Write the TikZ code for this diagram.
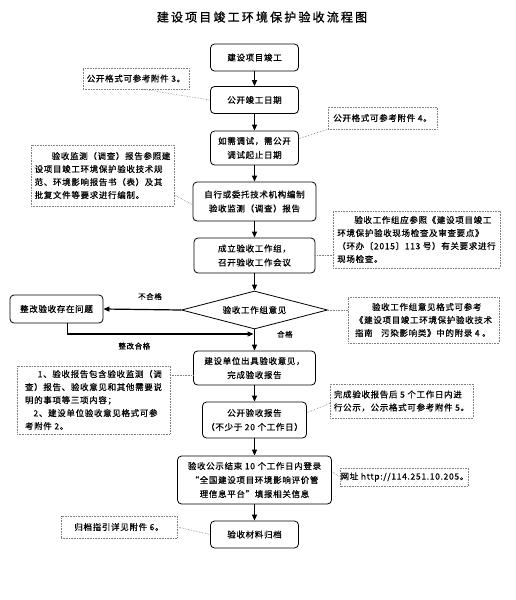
\documentclass[tikz,border=0pt]{standalone}
\usepackage{fontspec}
\newfontfamily\cjk[LetterSpace=8,FakeBold=0.6]{Noto Sans CJK SC}
\newfontfamily\cjktitle[LetterSpace=18,FakeBold=1.2]{Noto Sans CJK SC}
\usetikzlibrary{shapes.geometric,arrows.meta,calc}

\tikzset{
  box/.style={draw, rounded corners=4pt, line width=0.8pt, align=center, inner sep=0pt,
    font=\cjk\fontsize{8.5}{14}\selectfont},
  decision/.style={draw, diamond, aspect=3.84, line width=0.8pt, inner sep=0pt,
    font=\cjk\fontsize{8.5}{14}\selectfont},
  note/.style={draw=gray, densely dotted, line width=0.6pt, align=left, inner sep=0pt,
    font=\cjk\fontsize{8.5}{13}\selectfont},
  ptr/.style={draw=gray, densely dotted, line width=0.6pt},
  flow/.style={-{Triangle[length=6pt,width=5pt]}, line width=1.2pt},
  lab/.style={inner sep=1pt, font=\cjk\fontsize{7.5}{9}\selectfont},
}

\begin{document}
\begin{tikzpicture}[x=1pt,y=-1pt]
\useasboundingbox (0,0) rectangle (515,600);

\node (title) at (262,17) {\cjktitle\fontsize{12}{14}\selectfont 建设项目竣工环境保护验收流程图};

\node[box, minimum width=88pt, minimum height=27pt] (b1) at (254.5,57.5) {建设项目竣工};
\node[box, minimum width=88pt, minimum height=27pt] (b2) at (254.5,100) {公开竣工日期};
\node[box, minimum width=88pt, minimum height=34pt] (b3) at (254.5,148) {如需调试，需公开\\调试起止日期};
\node[box, minimum width=123pt, minimum height=39pt] (b4) at (254.5,201.5) {自行或委托技术机构编制\\验收监测（调查）报告};
\node[box, minimum width=121pt, minimum height=35pt] (b5) at (254.5,255.5) {成立验收工作组，\\召开验收工作会议};
\node[decision, minimum width=146pt, minimum height=38pt] (dia) at (254.5,310) {验收工作组意见};
\node[box, minimum width=93pt, minimum height=28pt] (fix) at (56.5,309) {整改验收存在问题};
\node[box, minimum width=122pt, minimum height=34pt] (b6) at (254.5,368) {建设单位出具验收意见，\\完成验收报告};
\node[box, minimum width=104pt, minimum height=36pt] (b7) at (254.5,420) {公开验收报告\\（不少于 20 个工作日）};
\node[box, minimum width=154pt, minimum height=48pt] (b8) at (254.5,480) {验收公示结束 10 个工作日内登录\\“全国建设项目环境影响评价管\\理信息平台”填报相关信息};
\node[box, minimum width=88pt, minimum height=27pt] (b9) at (254.5,534.5) {验收材料归档};

\node[note, minimum width=106pt, minimum height=21pt] (n1) at (136,78.5) {公开格式可参考附件 3。};
\node[note, minimum width=109pt, minimum height=22pt] (n2) at (382.5,118) {公开格式可参考附件 4。};
\node[note, minimum width=143pt, minimum height=61pt] (n3) at (102.5,175.5) {\hspace*{2em}验收监测（调查）报告参照建\\设项目竣工环境保护验收技术规\\范、环境影响报告书（表）及其\\批复文件等要求进行编制。};
\node[note, minimum width=167pt, minimum height=57pt] (n4) at (416.5,239.5) {\hspace*{2em}验收工作组应参照《建设项目竣工\\环境保护验收现场检查及审查要点》\\（环办〔2015〕113 号）有关要求进行\\现场检查。};
\node[note, minimum width=151pt, minimum height=46pt] (n5) at (423.5,320) {\hspace*{2em}验收工作组意见格式可参考\\《建设项目竣工环境保护验收技术\\指南\quad 污染影响类》中的附录 4 。};
\node[note, minimum width=153pt, minimum height=68pt] (n6) at (93.5,400) {\hspace*{1.5em}1、验收报告包含验收监测（调\\查）报告、验收意见和其他需要说\\明的事项等三项内容；\\\hspace*{1em}2、建设单位验收意见格式可参\\考附件 2。};
\node[note, minimum width=143pt, minimum height=34pt] (n7) at (401.5,401) {完成验收报告后 5 个工作日内进\\行公示，公示格式可参考附件 5。};
\node[note, minimum width=119pt, minimum height=18pt] (n8) at (404.5,477) {网址 http://114.251.10.205。};
\node[note, minimum width=116pt, minimum height=22pt] (n9) at (119,527) {归档指引详见附件 6。};

\draw[flow] (b1.south) -- (b2.north);
\draw[flow] (b2.south) -- (b3.north);
\draw[flow] (b3.south) -- (b4.north);
\draw[flow] (b4.south) -- (b5.north);
\draw[flow] (b5.south) -- (dia.north);
\draw[flow] (dia.south) -- (b6.north) node[lab, pos=0.23, right=21pt] {合格};
\draw[flow] (b6.south) -- (b7.north);
\draw[flow] (b7.south) -- (b8.north);
\draw[flow] (b8.south) -- (b9.north);
\draw[flow] (dia.west) -- (fix.east) node[lab, pos=0.4, above=8pt] {不合格};
\coordinate (join) at (253.5,334);
\draw[flow] (fix.-53) |- (join) node[lab, pos=0.68, below=7pt] {整改合格};

\draw[ptr] ($(n1.south)+(7,0)$) -- (b2.west);
\draw[ptr] (b3.12) -- (n2.south west);
\draw[ptr] (n3.-15) -- (b4.183);
\draw[ptr] (b5.east) -- (n4.west |- b5.east);
\draw[ptr] (dia.east) -- (n5.west |- dia.east);
\draw[ptr] (b6.187) -- (n6.east |- b6.187);
\draw[ptr] (b7.8) -- (n7.182);
\draw[ptr] (b8.6) -- (n8.west);
\draw[ptr] (n9.east) -- (b9.west);
\end{tikzpicture}
\end{document}
